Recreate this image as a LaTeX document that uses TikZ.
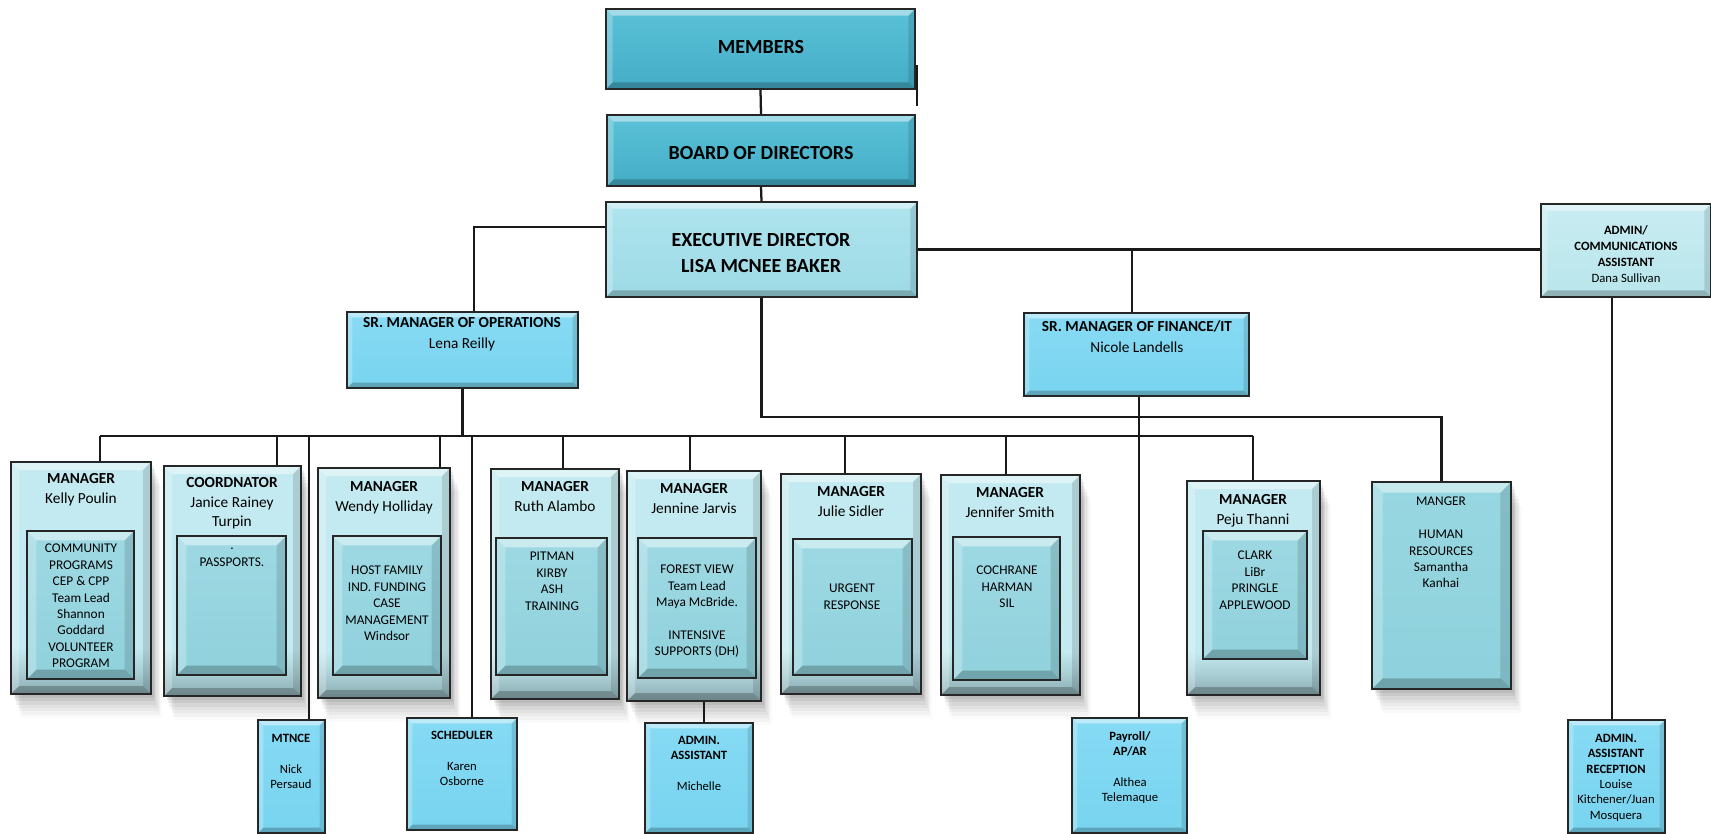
\documentclass[tikz,border=0pt]{standalone}
\usepackage{fontspec}
\setmainfont{Carlito}
\usetikzlibrary{fit,shadows}
\definecolor{memA}{HTML}{5AC1D7}
\definecolor{memB}{HTML}{44ADC6}
\definecolor{execA}{HTML}{AEE4EE}
\definecolor{execB}{HTML}{9DDAE5}
\definecolor{srA}{HTML}{88DAF3}
\definecolor{srB}{HTML}{78D4EF}
\definecolor{admA}{HTML}{C9EDF2}
\definecolor{admB}{HTML}{B8E5EB}
\definecolor{mgrA}{HTML}{C3EAF0}
\definecolor{mgrM}{HTML}{AACFD5}
\definecolor{mgrB}{HTML}{8AABB0}
\definecolor{innA}{HTML}{9ED9E3}
\definecolor{innB}{HTML}{90D1DC}
\definecolor{hrA}{HTML}{98D7E1}
\definecolor{hrB}{HTML}{8ED1DC}
\definecolor{smA}{HTML}{86DAF4}
\definecolor{smB}{HTML}{78D4EF}
\pgfdeclareverticalshading{mgrshade}{100bp}{color(0bp)=(mgrB); color(25bp)=(mgrB); color(30bp)=(mgrM); color(35bp)=(mgrA); color(100bp)=(mgrA)}
\tikzset{
  conn/.style={line width=1.7pt, draw=black!90},
  bvl/.style={path picture={
    \fill[white,opacity=.45] (path picture bounding box.north west) -- (path picture bounding box.north east)
      -- ([shift={(-#1,-#1)}]path picture bounding box.north east) -- ([shift={(#1,-#1)}]path picture bounding box.north west) -- cycle;
    \fill[white,opacity=.25] (path picture bounding box.north west) -- ([shift={(#1,-#1)}]path picture bounding box.north west)
      -- ([shift={(#1,#1)}]path picture bounding box.south west) -- (path picture bounding box.south west) -- cycle;
    \fill[black,opacity=.22] (path picture bounding box.south west) -- (path picture bounding box.south east)
      -- ([shift={(-#1,#1)}]path picture bounding box.south east) -- ([shift={(#1,#1)}]path picture bounding box.south west) -- cycle;
    \fill[black,opacity=.12] (path picture bounding box.north east) -- (path picture bounding box.south east)
      -- ([shift={(-#1,#1)}]path picture bounding box.south east) -- ([shift={(-#1,-#1)}]path picture bounding box.north east) -- cycle;
  }},
  bx/.style={draw=black!85, line width=1.6pt, inner sep=0pt, rectangle},
  softsh/.style={drop shadow={shadow xshift=2pt,shadow yshift=-3pt,opacity=0.07,fill=black},
                 drop shadow={shadow xshift=3pt,shadow yshift=-5.5pt,opacity=0.06,fill=black},
                 drop shadow={shadow xshift=4pt,shadow yshift=-8pt,opacity=0.05,fill=black},
                 drop shadow={shadow xshift=5pt,shadow yshift=-10.5pt,opacity=0.04,fill=black},
                 drop shadow={shadow xshift=6pt,shadow yshift=-13pt,opacity=0.035,fill=black},
                 drop shadow={shadow xshift=7pt,shadow yshift=-15.5pt,opacity=0.03,fill=black},
                 drop shadow={shadow xshift=8pt,shadow yshift=-18pt,opacity=0.02,fill=black}},
  memb/.style={bx, top color=memA, bottom color=memB, bvl=5pt},
  exe/.style={bx, top color=execA, bottom color=execB, bvl=5pt},
  srm/.style={bx, top color=srA, bottom color=srB, bvl=4pt},
  adm/.style={bx, top color=admA, bottom color=admB, bvl=5pt},
  mgr/.style={softsh, bx, shading=mgrshade, bvl=6pt},
  inr/.style={bx, top color=innA, bottom color=innB, bvl=7pt},
  hrb/.style={softsh, bx, top color=hrA, bottom color=hrB, bvl=8pt},
  sml/.style={bx, top color=smA, bottom color=smB, bvl=4pt},
  big/.style={anchor=center, align=center, inner sep=0pt, font=\fontsize{15}{19}\selectfont\bfseries},
  hd/.style={anchor=north, align=center, inner sep=0pt, font=\fontsize{11.5}{14.8}\selectfont},
  tx/.style={anchor=north, align=center, inner sep=0pt, font=\fontsize{10}{12.3}\selectfont},
  sm/.style={anchor=north, align=center, inner sep=0pt, font=\fontsize{9.5}{11.5}\selectfont},
}
\newcommand\bx[6]{\node[#6, fit={(#2,#3)(#4,#5)}] (#1) {};}
\begin{document}
\begin{tikzpicture}[x=0.75pt,y=-0.75pt]
\useasboundingbox (0,0) rectangle (1711,834);

% ---------- top boxes ----------
\bx{members}{606}{9}{915}{89}{memb}
\bx{board}{607}{115}{915}{186}{memb}
\bx{exec}{606}{202}{917}{297}{exe}
\bx{ops}{347}{312}{578}{388}{srm}
\bx{fin}{1024}{313}{1249}{396}{srm}
\bx{admin}{1541}{204}{1711}{297}{adm}

% ---------- manager row ----------
\bx{kelly}{11}{462}{151}{694}{mgr}
\bx{coord}{164}{466}{301}{696}{mgr}
\bx{wendy}{318}{468}{450}{698}{mgr}
\bx{ruth}{491}{469}{619}{699}{mgr}
\bx{jennine}{627}{471}{761}{701}{mgr}
\bx{julie}{781}{474}{921}{694}{mgr}
\bx{jsmith}{941}{475}{1080}{695}{mgr}
\bx{peju}{1187}{481}{1320}{695}{mgr}
\bx{hr}{1372}{482}{1511}{689}{hrb}

\bx{kellyin}{27}{531}{134}{679}{inr}
\bx{coordin}{177}{536}{286}{675}{inr}
\bx{wendyin}{333}{536}{441}{675}{inr}
\bx{ruthin}{496}{538}{607}{675}{inr}
\bx{jennin}{638}{538}{756}{678}{inr}
\bx{juliein}{793}{539}{912}{675}{inr}
\bx{jsmithin}{953}{537}{1060}{680}{inr}
\bx{pejuin}{1203}{531}{1307}{659}{inr}

% ---------- lower boxes ----------
\bx{mtnce}{258}{720}{325}{833}{sml}
\bx{sched}{407}{718}{517}{830}{sml}
\bx{michelle}{645}{723}{753}{833}{sml}
\bx{payroll}{1072}{718}{1187}{833}{sml}
\bx{recep}{1568}{720}{1665}{833}{sml}

% ---------- helper coordinates ----------
\coordinate (bus) at (0,436);
\coordinate (ehl) at (0,417);
\coordinate (eol) at (0,227);
\coordinate (ox) at (474,0);
\coordinate (fx) at (1132,0);
\coordinate (kx) at (100,0);
\coordinate (cx) at (277,0);
\coordinate (mx) at (309,0);
\coordinate (wx) at (440,0);
\coordinate (sx) at (472,0);
\coordinate (rx) at (563,0);
\coordinate (jx) at (690,0);
\coordinate (jdx) at (704,0);
\coordinate (ux) at (845,0);
\coordinate (smx) at (1006,0);
\coordinate (px) at (1253,0);
\coordinate (pdx) at (1139,0);
\coordinate (ax) at (1612,0);
\coordinate (st1) at (917,65);
\coordinate (st2) at (917,106);

% ---------- connectors ----------
\draw[conn] (members.south) -- (board.north);
\draw[conn] (board.south) -- (exec.north);
\draw[conn] (st1) -- (st2);
\draw[conn] (exec.west |- eol) -| (ox |- ops.north);
\draw[conn] (exec.east) -- (exec.east -| admin.west);
\draw[conn] (fx |- exec.east) -- (fx |- fin.north);
\draw[conn] (exec.south) |- (ehl -| hr.north) -- (hr.north);
\draw[conn] (ops.south) -- (ops.south |- bus);
\draw[conn] (kx |- bus) -- (px |- bus);
\draw[conn] (kx |- bus) -- (kx |- kelly.north);
\draw[conn] (cx |- bus) -- (cx |- coord.north);
\draw[conn] (mx |- bus) -- (mx |- mtnce.north);
\draw[conn] (wx |- bus) -- (wx |- wendy.north);
\draw[conn] (sx |- bus) -- (sx |- sched.north);
\draw[conn] (rx |- bus) -- (rx |- ruth.north);
\draw[conn] (jx |- bus) -- (jx |- jennine.north);
\draw[conn] (ux |- bus) -- (ux |- julie.north);
\draw[conn] (smx |- bus) -- (smx |- jsmith.north);
\draw[conn] (px |- bus) -- (px |- peju.north);
\draw[conn] (jdx |- jennine.south) -- (jdx |- michelle.north);
\draw[conn] (pdx |- fin.south) -- (pdx |- payroll.north);
\draw[conn] (ax |- admin.south) -- (ax |- recep.north);

% ---------- texts ----------
\node[big] (memt) at (761,47) {MEMBERS};
\node[big] (boardt) at (761,153) {BOARD OF DIRECTORS};
\node[big, font=\fontsize{15}{19.5}\selectfont\bfseries] (exect) at (761,253) {EXECUTIVE DIRECTOR\\LISA MCNEE BAKER};
\node[sm, font=\fontsize{9.5}{12}\selectfont] (admint) at (1626,225) {\textbf{ADMIN/}\\\textbf{COMMUNICATIONS}\\\textbf{ASSISTANT}\\Dana Sullivan};

\node[hd] (opst) at (462,317) {\textbf{SR. MANAGER OF OPERATIONS}\\[1pt]Lena Reilly};
\node[hd] (fint) at (1137,320) {\textbf{SR. MANAGER OF FINANCE/IT}\\[1pt]Nicole Landells};

\node[hd] (kellyt) at (81,473) {\textbf{MANAGER}\\Kelly Poulin};
\node[hd] (coordt) at (232,477) {\textbf{COORDNATOR}\\Janice Rainey\\Turpin};
\node[hd] (wendyt) at (384,481) {\textbf{MANAGER}\\Wendy Holliday};
\node[hd] (rutht) at (555,481) {\textbf{MANAGER}\\Ruth Alambo};
\node[hd] (jenninet) at (694,483) {\textbf{MANAGER}\\Jennine Jarvis};
\node[hd] (juliet) at (851,486) {\textbf{MANAGER}\\Julie Sidler};
\node[hd] (jsmitht) at (1010,487) {\textbf{MANAGER}\\Jennifer Smith};
\node[hd] (pejut) at (1253,494) {\textbf{MANAGER}\\Peju Thanni};

\node[tx] (kellyit) at (81,544) {COMMUNITY\\PROGRAMS\\CEP \& CPP\\Team Lead\\Shannon\\Goddard\\VOLUNTEER\\PROGRAM};
\node[tx] (coordit) at (232,548) {.\\PASSPORTS.};
\node[tx] (wendyit) at (387,566) {HOST FAMILY\\IND. FUNDING\\CASE\\MANAGEMENT\\Windsor};
\node[tx] (ruthit) at (552,552) {PITMAN\\KIRBY\\ASH\\TRAINING};
\node[tx] (jenninit) at (697,565) {FOREST VIEW\\Team Lead\\Maya McBride.\\[12.3pt]INTENSIVE\\SUPPORTS (DH)};
\node[tx] (julieit) at (852,584) {URGENT\\RESPONSE};
\node[tx] (jsmithit) at (1007,566) {COCHRANE\\HARMAN\\SIL};
\node[tx] (pejuit) at (1255,551) {CLARK\\LiBr\\PRINGLE\\APPLEWOOD};
\node[tx] (hrt) at (1441,497) {MANGER\\[12.3pt]HUMAN\\RESOURCES\\Samantha\\Kanhai};

\node[sm] (mtncet) at (291,734) {\textbf{MTNCE}\\[11.5pt]Nick\\Persaud};
\node[sm] (schedt) at (462,731) {\textbf{SCHEDULER}\\[11.5pt]Karen\\Osborne};
\node[sm] (michellet) at (699,736) {\textbf{ADMIN.}\\\textbf{ASSISTANT}\\[11.5pt]Michelle};
\node[sm] (payrollt) at (1130,731) {\textbf{Payroll/}\\\textbf{AP/AR}\\[11.5pt]Althea\\Telemaque};
\node[sm] (recept) at (1616,734) {\textbf{ADMIN.}\\\textbf{ASSISTANT}\\\textbf{RECEPTION}\\Louise\\Kitchener/Juan\\Mosquera};
\end{tikzpicture}
\end{document}
